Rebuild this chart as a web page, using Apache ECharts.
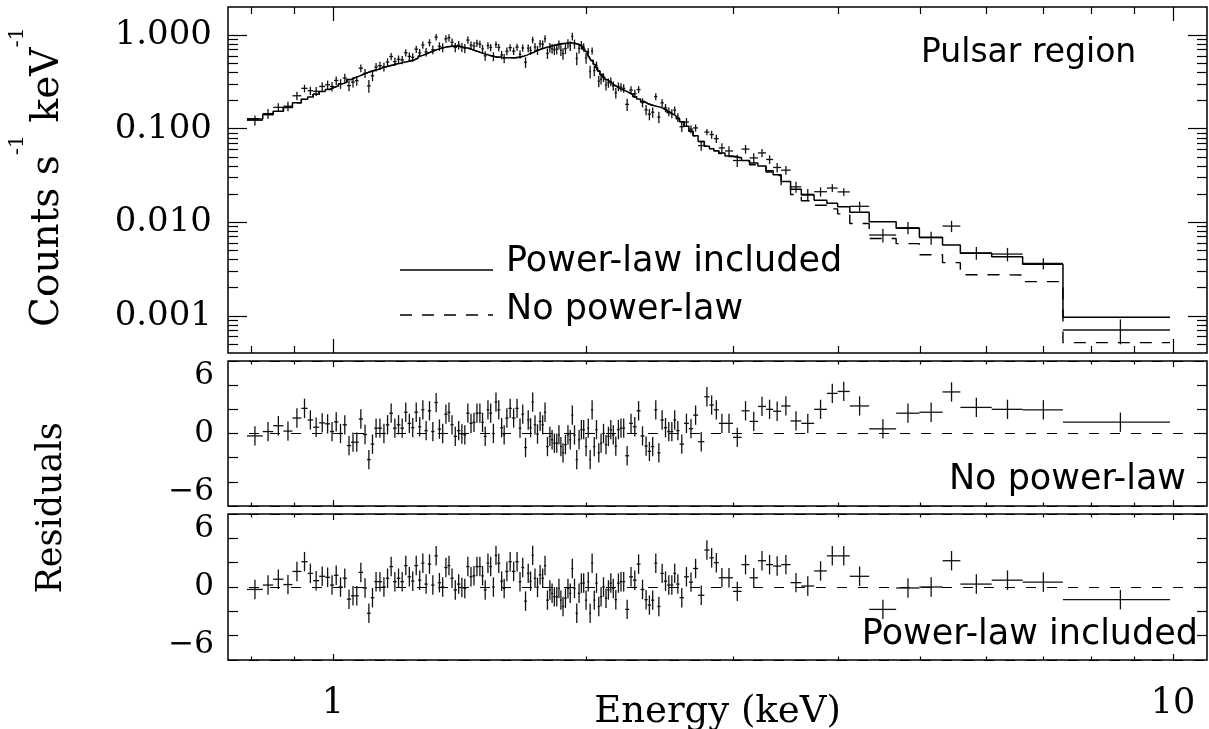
<!DOCTYPE html>
<html>
<head>
<meta charset="utf-8">
<title>Pulsar region spectrum</title>
<script src="https://cdn.jsdelivr.net/npm/echarts@6/dist/echarts.min.js"></script>
<style>
  html, body { margin: 0; padding: 0; background: #fff; }
  #chart { width: 1209px; height: 729px; }
</style>
</head>
<body>
<div id="chart"></div>
<script>
// spectrum bin edges (keV), one more than the number of bins
const edges = [
  0.790, 0.825, 0.849, 0.873, 0.895, 0.917, 0.933, 0.947, 0.963, 0.979, 0.992, 1.003, 1.015, 1.027, 1.039,
  1.051, 1.062, 1.073, 1.086, 1.098, 1.109, 1.120, 1.131, 1.144, 1.156,
  1.167, 1.179, 1.191, 1.203, 1.215, 1.227, 1.239, 1.250, 1.263, 1.274,
  1.285, 1.297, 1.309, 1.321, 1.333, 1.345, 1.357, 1.369, 1.380, 1.392,
  1.405, 1.418, 1.430, 1.441, 1.454, 1.466, 1.478, 1.490, 1.502, 1.512,
  1.524, 1.535, 1.547, 1.558, 1.569, 1.582, 1.594, 1.604, 1.618, 1.633,
  1.649, 1.664, 1.676, 1.689, 1.702, 1.714, 1.724, 1.734, 1.746, 1.758,
  1.771, 1.783, 1.794, 1.807, 1.818, 1.829, 1.841, 1.853, 1.863, 1.873,
  1.885, 1.898, 1.911, 1.922, 1.933, 1.945, 1.957, 1.970, 1.982, 1.995,
  2.008, 2.019, 2.029, 2.041, 2.053, 2.066, 2.079, 2.092, 2.107, 2.121,
  2.135, 2.149, 2.164, 2.179, 2.195, 2.210, 2.228, 2.252, 2.276, 2.299,
  2.324, 2.349, 2.370, 2.392, 2.413, 2.433, 2.454, 2.477, 2.500, 2.522,
  2.542, 2.562, 2.586, 2.618, 2.653, 2.684, 2.721, 2.768,
  2.807, 2.841, 2.880, 2.929, 2.994, 3.065, 3.133, 3.206, 3.278, 3.342, 3.417, 3.506, 3.611, 3.740, 3.873, 3.989, 4.124, 4.349,
  4.683, 4.991, 5.318, 5.584, 6.085, 6.624, 7.398, 9.921
];

// observed rate per bin (counts s^-1 keV^-1)
const counts = [
  0.123, 0.145, 0.169, 0.174, 0.225, 0.270, 0.255, 0.251, 0.283, 0.295, 0.283, 0.328, 0.302, 0.348,
  0.289, 0.315, 0.327, 0.443, 0.391, 0.287, 0.368, 0.456, 0.472, 0.458,
  0.515, 0.591, 0.522, 0.552, 0.544, 0.648, 0.593, 0.580, 0.708, 0.646,
  0.785, 0.661, 0.833, 0.700, 0.953, 0.759, 0.737, 0.915, 0.941, 0.839,
  0.739, 0.781, 0.741, 0.722, 0.886, 0.781, 0.768, 0.821, 0.798, 0.715,
  0.602, 0.774, 0.739, 0.592, 0.794, 0.738, 0.614, 0.565, 0.673, 0.736,
  0.675, 0.746, 0.623, 0.730, 0.514, 0.727, 0.688, 0.889, 0.747, 0.691,
  0.810, 0.798, 0.917, 0.639, 0.738, 0.718, 0.698, 0.708, 0.790, 0.689,
  0.636, 0.718, 0.812, 0.769, 0.970, 0.804, 0.564, 0.724, 0.783, 0.743,
  0.570, 0.658, 0.408, 0.679, 0.417, 0.472, 0.323, 0.338, 0.354, 0.293,
  0.309, 0.319, 0.287, 0.241, 0.282, 0.278, 0.270, 0.182, 0.259, 0.237,
  0.262, 0.190, 0.159, 0.143, 0.150, 0.220, 0.133, 0.189, 0.167, 0.152,
  0.145, 0.158, 0.132, 0.105, 0.118, 0.099, 0.102, 0.066, 0.092,
  0.0866, 0.0783, 0.0623, 0.0578, 0.0457, 0.0605, 0.0487, 0.0551, 0.0469, 0.0385, 0.0360, 0.0239, 0.0199, 0.0212, 0.0232, 0.0211, 0.0148,
  0.0073, 0.00874, 0.00683, 0.0091, 0.0047, 0.00457, 0.00363, 0.000705
];

// 1-sigma error on the rate
const countsErr = [
  0.015, 0.017, 0.018, 0.020, 0.023, 0.025, 0.026, 0.028, 0.030, 0.032, 0.033, 0.034, 0.036, 0.038,
  0.037, 0.039, 0.040, 0.042, 0.043, 0.045, 0.046, 0.047, 0.049, 0.050,
  0.052, 0.053, 0.054, 0.055, 0.056, 0.057, 0.059, 0.060, 0.063, 0.066,
  0.068, 0.070, 0.073, 0.075, 0.078, 0.080, 0.081, 0.083, 0.083, 0.084,
  0.084, 0.083, 0.082, 0.081, 0.079, 0.077, 0.075, 0.073, 0.071, 0.070,
  0.069, 0.067, 0.066, 0.065, 0.064, 0.064, 0.063, 0.063, 0.063, 0.063,
  0.063, 0.064, 0.065, 0.066, 0.067, 0.069, 0.071, 0.072, 0.075, 0.076,
  0.078, 0.080, 0.081, 0.083, 0.084, 0.085, 0.086, 0.087, 0.088, 0.089,
  0.090, 0.090, 0.091, 0.091, 0.091, 0.090, 0.088, 0.086, 0.083, 0.078,
  0.074, 0.068, 0.064, 0.059, 0.054, 0.050, 0.046, 0.042, 0.039, 0.037,
  0.035, 0.034, 0.032, 0.031, 0.030, 0.029, 0.028, 0.027, 0.026, 0.024,
  0.023, 0.021, 0.020, 0.020, 0.019, 0.019, 0.019, 0.018, 0.017, 0.016,
  0.016, 0.015, 0.014, 0.013, 0.012, 0.010, 0.009, 0.008, 0.007,
  0.0085, 0.0081, 0.0077, 0.0071, 0.0068, 0.0064, 0.0060, 0.0056, 0.0050, 0.0045, 0.0038, 0.0032, 0.0027, 0.0024, 0.0022, 0.0020, 0.0018,
  0.00122, 0.0013, 0.0011, 0.00126, 0.00072, 0.00075, 0.0005, 0.00021
];

// folded model, power-law included (solid)
const modelPL = [
  0.127, 0.142, 0.154, 0.169, 0.189, 0.206, 0.218, 0.233, 0.250, 0.263, 0.276, 0.287, 0.302, 0.314,
  0.335, 0.350, 0.363, 0.380, 0.395, 0.408, 0.419, 0.430, 0.445, 0.458,
  0.469, 0.480, 0.492, 0.502, 0.513, 0.522, 0.532, 0.544, 0.570, 0.600,
  0.618, 0.640, 0.662, 0.685, 0.705, 0.723, 0.737, 0.750, 0.758, 0.763,
  0.764, 0.756, 0.745, 0.734, 0.720, 0.700, 0.682, 0.667, 0.648, 0.635,
  0.623, 0.610, 0.600, 0.592, 0.585, 0.581, 0.576, 0.574, 0.572, 0.572,
  0.574, 0.580, 0.587, 0.598, 0.612, 0.630, 0.645, 0.655, 0.680, 0.695,
  0.712, 0.726, 0.738, 0.750, 0.763, 0.773, 0.784, 0.795, 0.803, 0.809,
  0.816, 0.822, 0.826, 0.828, 0.825, 0.817, 0.802, 0.780, 0.750, 0.712,
  0.670, 0.620, 0.580, 0.535, 0.490, 0.452, 0.414, 0.380, 0.354, 0.335,
  0.320, 0.306, 0.292, 0.281, 0.270, 0.262, 0.255, 0.243, 0.232, 0.220,
  0.208, 0.195, 0.186, 0.180, 0.176, 0.173, 0.170, 0.164, 0.157, 0.149,
  0.142, 0.137, 0.128, 0.119, 0.106, 0.094, 0.084, 0.073, 0.065,
  0.061, 0.058, 0.055, 0.051, 0.0488, 0.0458, 0.0430, 0.0400, 0.0355, 0.0322, 0.0272, 0.0225, 0.0196, 0.0172, 0.0160, 0.0146, 0.0128,
  0.0101, 0.0086, 0.0069, 0.0057, 0.00467, 0.00427, 0.00355, 0.000964
];

// model without power-law (dashed): same as above below 2.8 keV, these are the last bins
const modelNoPLHigh = [
  0.061, 0.058, 0.0542, 0.0503, 0.0485, 0.0455, 0.0412, 0.0394, 0.0345, 0.0315, 0.0251, 0.0198, 0.0170, 0.0152, 0.0139, 0.0123, 0.0097,
  0.0067, 0.0059, 0.0045, 0.0037, 0.00275, 0.00273, 0.00232, 0.000516
];

// residuals (sigma), fit without power-law
const resNoPL = [
  -0.25, 0.2, 0.8, 0.25, 1.6, 2.6, 1.4, 0.65, 1.1, 1.0, 0.2, 1.2, 0, 0.9,
  -1.25, -0.9, -0.9, 1.5, -0.1, -2.7, -1.1, 0.55, 0.55, 0,
  0.9, 2.1, 0.55, 0.9, 0.55, 2.2, 1.05, 0.6, 2.2, 0.7,
  2.45, 0.3, 2.35, 0.2, 3.2, 0.45, 0, 2.0, 2.2, 0.9,
  -0.3, 0.3, -0.05, -0.15, 2.1, 1.05, 1.15, 2.1, 2.1, 1.15,
  -0.3, 2.45, 2.1, 0, 3.25, 2.45, 0.6, -0.15, 1.6, 2.6,
  1.6, 2.6, 0.55, 2.0, -1.45, 1.4, 0.6, 3.25, 0.9, -0.05,
  1.25, 0.9, 2.2, -1.35, -0.3, -0.65, -1.0, -1.0, -0.15, -1.35,
  -2.0, -1.15, -0.15, -0.65, 1.9, -0.15, -2.7, -0.65, 0.4, 0.4,
  -1.35, 0.55, -2.7, 2.45, -1.35, 0.4, -2.0, -1.0, 0, -1.15,
  -0.3, 0.4, -0.15, -1.3, 0.4, 0.55, 0.55, -2.3, 1.05, 0.7,
  2.35, -0.25, -1.3, -1.85, -1.35, 2.45, -2.0, 1.4, 0.6, 0.2,
  0.2, 1.4, 0.3, -1.1, 1.05, 0.5, 1.9, -0.85, 3.8,
  2.95, 2.45, 1.05, 1.05, -0.4, 2.35, 1.25, 2.8, 2.5, 2.3, 2.85, 1.3, 1.05, 2.5, 4.15, 4.35, 2.85,
  0.48, 2.1, 2.2, 4.3, 2.7, 2.5, 2.45, 1.17
];

// residuals with power-law: identical below 2.8 keV, these are the last bins
const resPLHigh = [
  3.0, 2.5, 0.95, 0.95, -0.45, 2.3, 0.95, 2.7, 2.3, 2.15, 2.3, 0.45, 0.1, 1.65, 3.2, 3.2, 1.1,
  -2.3, -0.1, 0, 2.7, 0.3, 0.7, 0.5, -1.3
];
const resErr = 1;

// axes
const X_MIN = 0.75, X_MAX = 10.98;
const Y_MIN = 0.0004, Y_MAX = 2;
const RES_MIN = -7.5, RES_MAX = 7.5;
const xMajor = [1, 10];
const xMinor = [0.8, 0.9, 2, 3, 4, 5, 6, 7, 8, 9];
const yMajor = [0.001, 0.01, 0.1, 1];
const yMinor = [0.0005, 0.0006, 0.0007, 0.0008, 0.0009,
  0.002, 0.003, 0.004, 0.005, 0.006, 0.007, 0.008, 0.009,
  0.02, 0.03, 0.04, 0.05, 0.06, 0.07, 0.08, 0.09,
  0.2, 0.3, 0.4, 0.5, 0.6, 0.7, 0.8, 0.9];
const resTicks = [-5, -2.5, 0, 2.5, 5];
const resLabels = [-6, 0, 6];

const INK = '#000';
const SERIF = '"DejaVu Serif", "Liberation Serif", serif';
const SANS = '"DejaVu Sans", "Noto Sans", sans-serif';

const nBins = counts.length;
const modelNoPL = modelPL.slice(0, nBins - modelNoPLHigh.length).concat(modelNoPLHigh);
const resPL = resNoPL.slice(0, nBins - resPLHigh.length).concat(resPLHigh);

function binMid(i) { return (edges[i] + edges[i + 1]) / 2; }
const spectrumData = counts.map((c, i) => [binMid(i), c, edges[i], edges[i + 1], countsErr[i]]);
const resNoPLData = resNoPL.map((r, i) => [binMid(i), r, edges[i], edges[i + 1], resErr]);
const resPLData = resPL.map((r, i) => [binMid(i), r, edges[i], edges[i + 1], resErr]);
const stepPL = edges.map((e, i) => [e, modelPL[Math.min(i, nBins - 1)]]);
const stepNoPL = edges.map((e, i) => [e, modelNoPL[Math.min(i, nBins - 1)]]);

// cross: x bar over the bin, y bar over +-err
function renderCross(params, api) {
  const x = api.value(0), y = api.value(1), e = api.value(4);
  const p = api.coord([x, y]);
  const l = api.coord([api.value(2), y]);
  const r = api.coord([api.value(3), y]);
  const t = api.coord([x, y + e]);
  const b = api.coord([x, y - e]);
  const style = { stroke: '#111', lineWidth: 1.3 };
  return {
    type: 'group',
    children: [
      { type: 'line', shape: { x1: l[0], y1: p[1], x2: r[0], y2: p[1] }, style: style },
      { type: 'line', shape: { x1: p[0], y1: t[1], x2: p[0], y2: b[1] }, style: style }
    ]
  };
}

const tickStyle = { color: INK, width: 1.2 };

function energyAxes(g, majorLen, minorLen, withLabels) {
  const common = {
    gridIndex: g, type: 'log', min: X_MIN, max: X_MAX,
    axisLine: { show: false, onZero: false },
    splitLine: { show: false },
    axisLabel: { show: false }
  };
  const major = Object.assign({}, common, { axisTick: { inside: true, length: majorLen, customValues: xMajor, lineStyle: tickStyle } });
  const minor = Object.assign({}, common, { axisTick: { inside: true, length: minorLen, customValues: xMinor, lineStyle: tickStyle } });
  const bottomMajor = Object.assign({}, major, { position: 'bottom' });
  if (withLabels) {
    bottomMajor.axisLabel = {
      show: true, customValues: xMajor, margin: 26, color: INK,
      fontFamily: SERIF, fontSize: 35,
      formatter: function (v) { return String(Math.round(v)); }
    };
    bottomMajor.name = 'Energy (keV)';
    bottomMajor.nameLocation = 'middle';
    bottomMajor.nameGap = 34;
    bottomMajor.nameMoveOverlap = false;
    bottomMajor.nameTextStyle = { color: INK, fontFamily: SERIF, fontSize: 37 };
  }
  return [
    bottomMajor,
    Object.assign({}, minor, { position: 'bottom' }),
    Object.assign({}, major, { position: 'top' }),
    Object.assign({}, minor, { position: 'top' })
  ];
}

function countAxes() {
  const common = {
    gridIndex: 0, type: 'log', min: Y_MIN, max: Y_MAX,
    axisLine: { show: false, onZero: false },
    splitLine: { show: false },
    axisLabel: { show: false }
  };
  const major = Object.assign({}, common, { axisTick: { inside: true, length: 19, customValues: yMajor, lineStyle: tickStyle } });
  const minor = Object.assign({}, common, { axisTick: { inside: true, length: 10, customValues: yMinor, lineStyle: tickStyle } });
  const leftMajor = Object.assign({}, major, {
    position: 'left',
    axisLabel: {
      show: true, customValues: yMajor, margin: 16, color: INK,
      fontFamily: SERIF, fontSize: 34,
      formatter: function (v) { return v.toFixed(3); }
    }
  });
  return [
    leftMajor,
    Object.assign({}, minor, { position: 'left' }),
    Object.assign({}, major, { position: 'right' }),
    Object.assign({}, minor, { position: 'right' })
  ];
}

// left (ticks + labels), right (ticks), and a bare axis whose split line is the dashed zero line
function residualAxes(g) {
  const common = {
    gridIndex: g, type: 'value', min: RES_MIN, max: RES_MAX,
    axisLine: { show: false, onZero: false },
    axisTick: { inside: true, length: 10, customValues: resTicks, lineStyle: tickStyle },
    splitLine: { show: false },
    axisLabel: { show: false }
  };
  const left = Object.assign({}, common, {
    position: 'left',
    axisLabel: {
      show: true, customValues: resLabels, margin: 14, color: INK,
      fontFamily: SERIF, fontSize: 31,
      formatter: function (v) { return v < 0 ? '\u2212' + Math.abs(v) : String(v); }
    }
  });
  const right = Object.assign({}, common, { position: 'right' });
  const zero = {
    gridIndex: g, type: 'value', min: RES_MIN, max: RES_MAX, interval: RES_MAX, position: 'left',
    axisLine: { show: false, onZero: false },
    axisTick: { show: false },
    axisLabel: { show: false },
    splitLine: { show: true, lineStyle: { color: INK, width: 1.2, type: [10, 11] } }
  };
  return [left, right, zero];
}

// rotated y title with superscripts, pieces placed by measured width
const measureCtx = document.createElement('canvas').getContext('2d');
function textWidth(text, font) { measureCtx.font = font; return measureCtx.measureText(text).width; }
function countsTitle() {
  const main = '39px "DejaVu Serif"';
  const sup = '21px "DejaVu Serif"';
  const pieces = [
    { text: 'Counts s', font: main, rise: 0 },
    { text: '-1', font: sup, rise: 30 },
    { text: ' keV', font: main, rise: 0 },
    { text: '-1', font: sup, rise: 30 }
  ];
  const widths = pieces.map(p => textWidth(p.text, p.font));
  let cursor = -widths.reduce((a, b) => a + b, 0) / 2;
  const children = pieces.map((p, i) => {
    const el = {
      type: 'text', x: cursor, y: -p.rise,
      style: { text: p.text, font: p.font, fill: INK, align: 'left', verticalAlign: 'middle', textAlign: 'left', textVerticalAlign: 'middle' }
    };
    cursor += widths[i];
    return el;
  });
  return { type: 'group', x: 48, y: 177, rotation: Math.PI / 2, silent: true, children: children };
}

function label(text, x, y, align, font) {
  return {
    type: 'text', x: x, y: y, silent: true,
    style: { text: text, font: font, fill: INK, align: align, verticalAlign: 'middle', textAlign: align, textVerticalAlign: 'middle' }
  };
}
const titleFont = '33px ' + SANS;
const keyFont = '35px ' + SANS;

const gridBox = { show: true, borderColor: INK, borderWidth: 1.5, backgroundColor: 'transparent', outerBoundsMode: 'none' };

const option = {
  animation: false,
  backgroundColor: '#fff',
  grid: [
    Object.assign({ left: 228, top: 7, width: 979, height: 346 }, gridBox),
    Object.assign({ left: 228, top: 361, width: 979, height: 145 }, gridBox),
    Object.assign({ left: 228, top: 514, width: 979, height: 146 }, gridBox)
  ],
  xAxis: [].concat(energyAxes(0, 14, 7, false), energyAxes(1, 6, 3.5, false), energyAxes(2, 6, 3.5, true)),
  yAxis: [].concat(countAxes(), residualAxes(1), residualAxes(2)),
  series: [
    {
      type: 'custom', name: 'Data', xAxisIndex: 0, yAxisIndex: 0,
      data: spectrumData, encode: { x: 0, y: 1 }, renderItem: renderCross, clip: true, silent: true, z: 2
    },
    {
      type: 'line', name: 'Power-law included', xAxisIndex: 0, yAxisIndex: 0,
      data: stepPL, step: 'end', symbol: 'none', silent: true, z: 3,
      lineStyle: { color: INK, width: 1.5 }
    },
    {
      type: 'line', name: 'No power-law', xAxisIndex: 0, yAxisIndex: 0,
      data: stepNoPL, step: 'end', symbol: 'none', silent: true, z: 3,
      lineStyle: { color: INK, width: 1.4, type: [12, 10] }
    },
    {
      type: 'custom', name: 'Residuals, no power-law', xAxisIndex: 4, yAxisIndex: 4,
      data: resNoPLData, encode: { x: 0, y: 1 }, renderItem: renderCross, clip: true, silent: true, z: 2
    },
    {
      type: 'custom', name: 'Residuals, power-law included', xAxisIndex: 8, yAxisIndex: 7,
      data: resPLData, encode: { x: 0, y: 1 }, renderItem: renderCross, clip: true, silent: true, z: 2
    }
  ],
  graphic: [
    countsTitle(),
    {
      type: 'text', x: 52, y: 508, rotation: Math.PI / 2, silent: true,
      style: { text: 'Residuals', font: '35px ' + SERIF, fill: INK, align: 'center', verticalAlign: 'middle', textAlign: 'center', textVerticalAlign: 'middle' }
    },
    // key inside the top panel
    { type: 'line', silent: true, shape: { x1: 400, y1: 270, x2: 493, y2: 270 }, style: { stroke: INK, lineWidth: 1.5 } },
    { type: 'line', silent: true, shape: { x1: 400, y1: 315, x2: 493, y2: 315 }, style: { stroke: INK, lineWidth: 1.4, lineDash: [12, 10] } },
    label('Power-law included', 506, 262, 'left', keyFont),
    label('No power-law', 506, 310, 'left', keyFont),
    label('Pulsar region', 921, 53, 'left', titleFont),
    label('No power-law', 1186, 480, 'right', keyFont),
    label('Power-law included', 1198, 635, 'right', keyFont)
  ]
};

const chart = echarts.init(document.getElementById('chart'));
chart.setOption(option);
</script>
</body>
</html>
